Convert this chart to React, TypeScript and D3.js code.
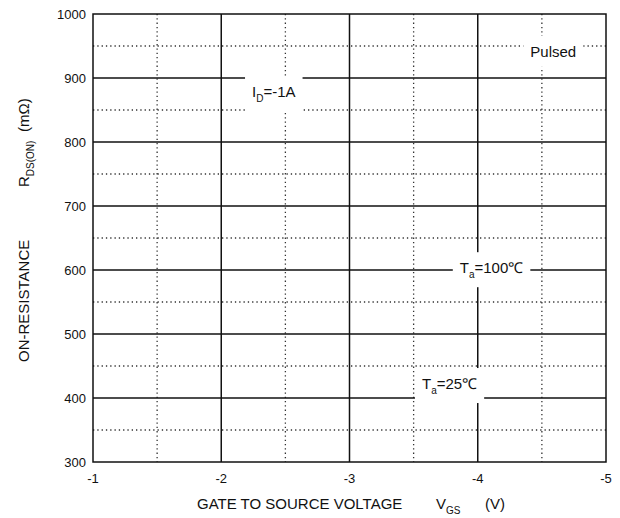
import React, { useLayoutEffect, useRef, useState } from "react";
import * as d3 from "d3";

// gate-source voltage (V) and on-resistance (mOhm) grid
const xTicks = [-1, -2, -3, -4, -5];
const xMinor = [-1.5, -2.5, -3.5, -4.5];
const yTicks = [300, 400, 500, 600, 700, 800, 900, 1000];
const yMinor = [350, 450, 550, 650, 750, 850, 950];

// annotations: label pieces and where they sit (in chart units)
const noteMain = ["Pulsed", "I", "T", "T"];
const noteSub = ["", "D", "a", "a"];
const noteRest = ["", "=-1A", "=100℃", "=25℃"];
const noteVgs = [-4.41, -2.24, -3.86, -3.565];
const noteRds = [933, 870, 595, 414];

const W = 620;
const H = 518;
const font = "'Liberation Sans', Arial, Helvetica, sans-serif";

export default function App() {
  const x = d3.scaleLinear().domain([-1, -5]).range([93, 606]);
  const y = d3.scaleLinear().domain([300, 1000]).range([462, 14]);
  const textRefs = useRef<(SVGTextElement | null)[]>([]);
  const [boxes, setBoxes] = useState<any[]>([]);

  useLayoutEffect(() => {
    setBoxes(textRefs.current.map(t => (t ? t.getBBox() : null)));
  }, []);

  const [x0, x1] = x.range();
  const [y0, y1] = y.range();

  return (
    <svg
      width={W}
      height={H}
      style={{ position: "absolute", left: 0, top: 0, background: "#fff" }}
      fontFamily={font}
    >
      {/* minor dotted grid */}
      {xMinor.map(v => (
        <line key={"xm" + v} x1={x(v)} x2={x(v)} y1={y1} y2={y0}
          stroke="#333" strokeWidth={1.3} strokeDasharray="1.3,3" />
      ))}
      {yMinor.map(v => (
        <line key={"ym" + v} x1={x0} x2={x1} y1={y(v)} y2={y(v)}
          stroke="#333" strokeWidth={1.3} strokeDasharray="1.3,3" />
      ))}
      {/* major solid grid */}
      {xTicks.slice(1, -1).map(v => (
        <line key={"xM" + v} x1={x(v)} x2={x(v)} y1={y1} y2={y0}
          stroke="#111" strokeWidth={1.5} />
      ))}
      {yTicks.slice(1, -1).map(v => (
        <line key={"yM" + v} x1={x0} x2={x1} y1={y(v)} y2={y(v)}
          stroke="#111" strokeWidth={1.5} />
      ))}

      {/* white boxes behind labels */}
      {boxes.map((b, i) =>
        b ? (
          <rect key={"b" + i} x={b.x - 7} y={b.y - 7} width={b.width + 14}
            height={b.height + 14} fill="#fff" />
        ) : null
      )}
      {noteMain.map((m, i) => (
        <text key={"n" + i} ref={el => { textRefs.current[i] = el; }}
          x={x(noteVgs[i])} y={y(noteRds[i])} fontSize={15} fill="#111">
          {m}
          {noteSub[i] && <tspan fontSize={10} dy={5}>{noteSub[i]}</tspan>}
          {noteRest[i] && <tspan dy={noteSub[i] ? -5 : 0}>{noteRest[i]}</tspan>}
        </text>
      ))}

      {/* frame */}
      <rect x={x0} y={y1} width={x1 - x0} height={y0 - y1} fill="none"
        stroke="#111" strokeWidth={1.5} />

      {/* tick labels */}
      {yTicks.map(v => (
        <text key={"yl" + v} x={x0 - 7} y={y(v)} dy="0.35em" textAnchor="end"
          fontSize={13} fill="#111">{v}</text>
      ))}
      {xTicks.map(v => (
        <text key={"xl" + v} x={x(v)} y={y0 + 21} textAnchor="middle"
          fontSize={13} fill="#111">{v}</text>
      ))}

      {/* x title */}
      <text y={509} fontSize={15} fill="#111">
        <tspan x={197}>GATE TO SOURCE VOLTAGE</tspan>
        <tspan x={436}>V</tspan>
        <tspan fontSize={10} dy={5}>GS</tspan>
        <tspan x={485} dy={-5}>(V)</tspan>
      </text>

      {/* y title */}
      <g transform="translate(29,0) rotate(-90)">
        <text y={0} fontSize={15} fill="#111">
          <tspan x={-362}>ON-RESISTANCE</tspan>
          <tspan x={-187}>R</tspan>
          <tspan fontSize={10} dy={5}>DS(ON)</tspan>
          <tspan x={-132} dy={-5}>(mΩ)</tspan>
        </text>
      </g>
    </svg>
  );
}
